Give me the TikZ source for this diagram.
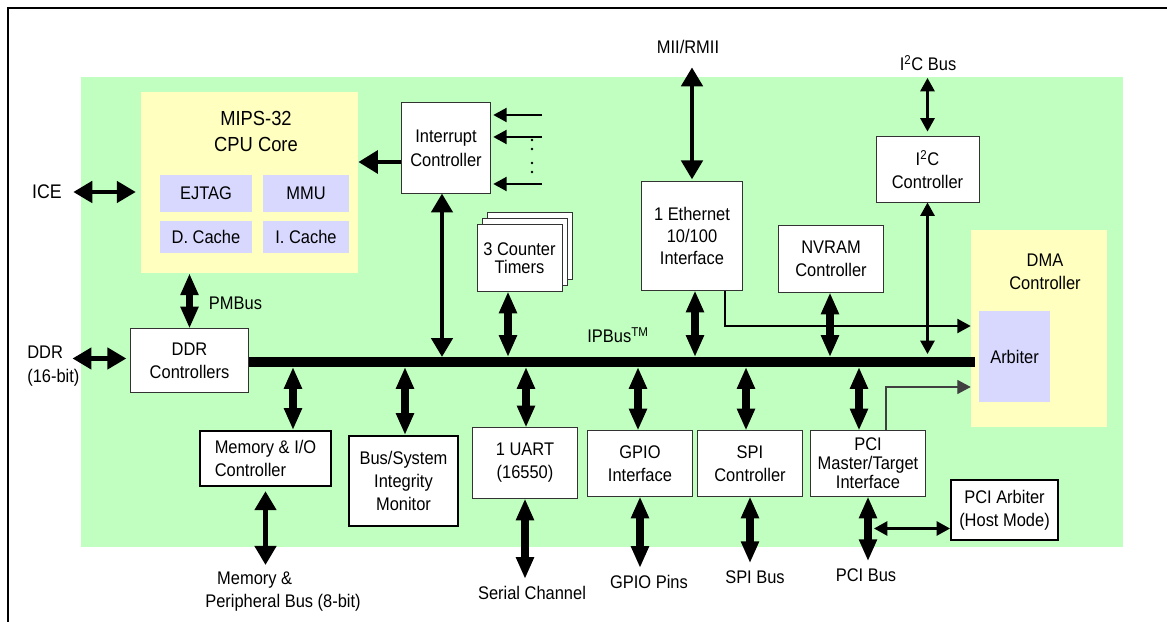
\documentclass[tikz,border=0pt]{standalone}
\usepackage{fontspec}
\setmainfont{Liberation Sans}[FakeStretch=0.9]
\usetikzlibrary{arrows.meta,calc}
\definecolor{socgreen}{RGB}{192,255,192}
\definecolor{coreyellow}{RGB}{255,255,192}
\definecolor{sublavender}{RGB}{216,216,255}

\begin{document}
\begin{tikzpicture}[
    x=0.025cm, y=-0.025cm,
    font=\fontsize{13}{16.4}\selectfont,
    block/.style={draw=black!80, line width=0.7pt, fill=white, align=center, inner sep=0pt},
    heavy/.style={block, draw=black, line width=1.4pt},
    core/.style={fill=coreyellow, inner sep=0pt},
    unit/.style={fill=sublavender, inner sep=0pt},
    caption/.style={align=center, inner sep=5pt},
    fat/.style={line width=5pt, {Triangle[length=15.5pt,width=12pt]}-{Triangle[length=15.5pt,width=12pt]}},
    wide/.style={line width=3.2pt, {Triangle[length=13.5pt,width=15pt]}-{Triangle[length=13.5pt,width=15pt]}},
    wideone/.style={line width=3.5pt, -{Triangle[length=14pt,width=16pt]}},
    medium/.style={line width=1.8pt, {Triangle[length=9.5pt,width=10pt]}-{Triangle[length=9.5pt,width=10pt]}},
    thinarrow/.style={line width=1.4pt, -{Triangle[length=9.5pt,width=10pt]}},
    hairarrow/.style={line width=0.8pt, draw=black!75, -{Triangle[length=9.5pt,width=10pt]}},
    ipbus/.style={line width=7.1pt}
  ]
    \useasboundingbox (0,0) rectangle (1167,622);
    \draw[line width=1.4pt] (8,622) -- (8,8) -- (1167,8);
    \fill[socgreen] (81,77) rectangle (1123,547);

    \node[core, minimum width=5.425cm, minimum height=4.525cm] (cpu) at (249.5,182.5) {};
    \node[align=center, font=\fontsize{14.5}{18.5}\selectfont] (cputitle) at (256,131) {MIPS-32\\CPU Core};
    \node[unit, minimum width=2.3cm, minimum height=0.925cm] (ejtag) at (206,193.5) {EJTAG};
    \node[unit, minimum width=2.15cm, minimum height=0.925cm] (mmu) at (306,193.5) {MMU};
    \node[unit, minimum width=2.3cm, minimum height=0.8cm] (dcache) at (206,237) {D. Cache};
    \node[unit, minimum width=2.15cm, minimum height=0.8cm] (icache) at (306,237) {I. Cache};

    \node[block, minimum width=2.2cm, minimum height=2.25cm, font=\fontsize{13}{17}\selectfont] (intc) at (446,148) {Interrupt\\Controller};
    \node[block, minimum width=2.125cm, minimum height=1.65cm] (timerc) at (529.5,246) {};
    \node[block, minimum width=2.125cm, minimum height=1.65cm] (timerb) at (524.5,252) {};
    \node[block, minimum width=2.125cm, minimum height=1.65cm, font=\fontsize{13}{12.5}\selectfont] (timers) at (519.5,258) {3 Counter\\Timers};
    \node[block, minimum width=2.5cm, minimum height=2.7cm, font=\fontsize{13}{15.6}\selectfont] (eth) at (692,236) {1 Ethernet\\10/100\\Interface};
    \node[block, minimum width=2.6cm, minimum height=1.65cm] (nvram) at (831,259) {NVRAM\\Controller};
    \node[block, minimum width=2.575cm, minimum height=1.625cm] (i2c) at (927.5,169.5) {I\textsuperscript{2}C\\Controller};
    \node[core, minimum width=3.4cm, minimum height=4.925cm] (dma) at (1039,328.5) {};
    \node[align=center] (dmatitle) at (1045,272) {DMA\\Controller};
    \node[unit, minimum width=1.775cm, minimum height=2.275cm] (arbiter) at (1014.5,356.5) {Arbiter};

    \node[block, minimum width=2.925cm, minimum height=1.575cm] (ddr) at (189.5,360.5) {DDR\\Controllers};
    \node[heavy, minimum width=3.275cm, minimum height=1.375cm, align=left] (memio) at (265.5,458.5) {Memory \& I/O\\Controller};
    \node[heavy, minimum width=2.725cm, minimum height=2.25cm] (monitor) at (403.5,481) {Bus/System\\Integrity\\Monitor};
    \node[block, minimum width=2.6cm, minimum height=1.75cm] (uart) at (525,463) {1 UART\\(16550)};
    \node[block, minimum width=2.6cm, minimum height=1.625cm] (gpio) at (640,463.5) {GPIO\\Interface};
    \node[block, minimum width=2.6cm, minimum height=1.625cm] (spi) at (750,463.5) {SPI\\Controller};
    \node[block, minimum width=2.85cm, minimum height=1.625cm, font=\fontsize{13}{13.5}\selectfont] (pci) at (868,463.5) {PCI\\Master/Target\\Interface};
    \node[heavy, minimum width=2.675cm, minimum height=1.5cm] (pciarb) at (1004.5,510) {PCI Arbiter\\(Host Mode)};

    \node[caption, font=\fontsize{14}{17}\selectfont] (ice) at (47,192) {ICE};
    \node[caption, align=left, anchor=west, font=\fontsize{13}{17}\selectfont] (ddrport) at (20,366) {DDR\\(16-bit)};
    \node[anchor=west] (pmbus) at (204,303) {PMBus};
    \node (ipbuslabel) at (618,335) {IPBus\textsuperscript{TM}};
    \node[caption] (mii) at (688,47) {MII/RMII};
    \node[caption] (i2cbus) at (928,63) {I\textsuperscript{2}C Bus};
    \node[caption, align=left] (membus) at (283,592) {\hspace*{8.5pt}Memory \&\\Peripheral Bus (8-bit)};
    \node[caption] (serial) at (532,593) {Serial Channel};
    \node[caption] (gpiopins) at (649,582) {GPIO Pins};
    \node[caption] (spibus) at (755,577) {SPI Bus};
    \node[caption] (pcibus) at (866,575) {PCI Bus};

    \coordinate (busend) at (975,362);
    \draw[ipbus] (ddr.east |- busend) -- (busend);
    \foreach \n/\x in {intc/442, tim/508, eth/695, nv/830}
      \coordinate (up\n) at (\x,357);
    \coordinate (upi2c) at (927.5,354);
    \foreach \n/\x in {mem/293, mon/405, uart/526, gpio/638, spi/746, pci/859}
      \coordinate (dn\n) at (\x,367);

    \draw[wide, shorten <=3pt, shorten >=3.5pt] (ice.east) -- (ice.east -| cpu.west);
    \draw[wide, shorten >=3pt] ($(ddr.west)+(-58,-2)$) -- ($(ddr.west)+(0,-2)$);
    \draw[fat] (cpu.south -| ddr.north) -- (ddr.north);
    \coordinate (irqout) at ($(intc.west)+(0,14)$);
    \draw[wideone] (irqout) -- (irqout -| cpu.east);
    \foreach \y in {115,137,184} {
      \coordinate (irq\y) at (542,\y);
      \draw[thinarrow, shorten >=2pt] (irq\y) -- (irq\y -| intc.east);
    }
    \foreach \y in {140,149,163,172}
      \fill (532,\y) circle (1pt);
    \draw[wide] (intc.south -| upintc) -- (upintc);
    \draw[fat] (timers.south -| uptim) -- (uptim);
    \draw[wide, shorten <=4.5pt, shorten >=1.5pt] (eth.north |- mii.south) -- (eth.north);
    \draw[fat] (eth.south -| upeth) -- (upeth);
    \draw[thinarrow] ($(eth.south)+(33,0)$) |- ($(dma.west)+(0,-2.5)$);
    \draw[fat] (nvram.south -| upnv) -- (upnv);
    \draw[medium, shorten >=3.5pt] (i2cbus.south -| i2c.north) -- (i2c.north);
    \draw[medium] (i2c.south) -- (i2c.south |- upi2c);
    \draw[hairarrow] ($(pci.north)+(18,0)$) |- ($(dma.west)+(0,58.5)$);

    \draw[fat] (dnmem) -- (dnmem |- memio.north);
    \draw[fat] (dnmon) -- (dnmon |- monitor.north);
    \draw[fat] (dnuart) -- (dnuart |- uart.north);
    \draw[fat] (dngpio) -- (dngpio |- gpio.north);
    \draw[fat] (dnspi) -- (dnspi |- spi.north);
    \draw[fat] (dnpci) -- (dnpci |- pci.north);
    \draw[wide, shorten <=3pt] (memio.south) -- (memio.south |- membus.north);
    \draw[fat] (uart.south) -- (uart.south |- serial.north);
    \draw[fat] (gpio.south) -- (gpio.south |- gpiopins.north);
    \draw[fat] (spi.south) -- (spi.south |- spibus.north);
    \draw[fat] (pci.south) -- (pci.south |- pcibus.north);
    \coordinate (pcijoin) at ($(pci.south)+(6,32)$);
    \draw[medium] (pcijoin) -- (pcijoin -| pciarb.west);
  \end{tikzpicture}
\end{document}
